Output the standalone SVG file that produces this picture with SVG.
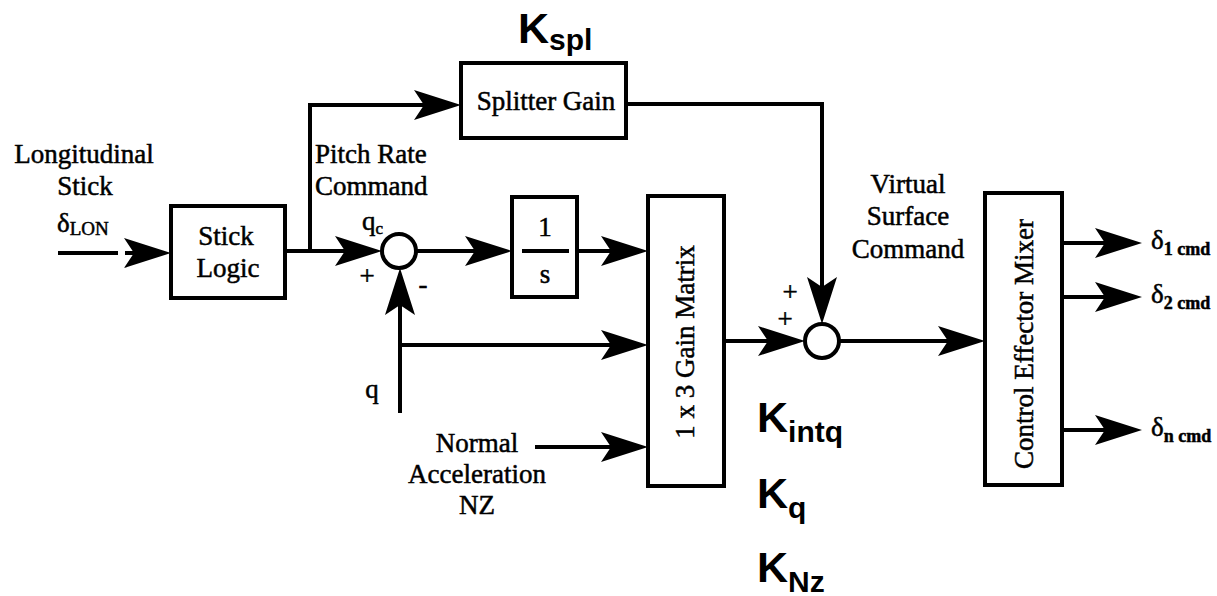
<svg xmlns="http://www.w3.org/2000/svg" width="1217" height="596" viewBox="0 0 1217 596">
<style>
.ln{fill:none;stroke:#000;stroke-width:4}
.bx{fill:#fff;stroke:#000;stroke-width:4}
.t{font-family:"Liberation Serif","Times New Roman",serif;font-size:27px;fill:#000;stroke:#000;stroke-width:0.5}
.m{text-anchor:middle}
.k{font-family:"Liberation Sans",Arial,sans-serif;font-weight:bold;fill:#000}
.sub{font-family:"Liberation Serif","Times New Roman",serif;font-weight:bold;font-size:18px;fill:#000}
</style>
<defs>
<marker id="ah" markerUnits="userSpaceOnUse" markerWidth="50" markerHeight="32" viewBox="0 -16 50 32" refX="37" refY="0" orient="auto">
<path d="M0,-15 L47,0 L0,15 L10,0 Z" fill="#000"/>
</marker>
</defs>
<rect width="1217" height="596" fill="#fff"/>
<g id="connectors">
<path class="ln" d="M58,253 H118"/>
<path class="ln" d="M125,253 H161" marker-end="url(#ah)"/>
<path class="ln" d="M285,251 H372" marker-end="url(#ah)"/>
<path class="ln" d="M310,251 V105 H451" marker-end="url(#ah)"/>
<path class="ln" d="M626,104 H822 V314" marker-end="url(#ah)"/>
<path class="ln" d="M416,251 H502" marker-end="url(#ah)"/>
<path class="ln" d="M577,251 H638" marker-end="url(#ah)"/>
<path class="ln" d="M400,413 V278" marker-end="url(#ah)"/>
<path class="ln" d="M400,345 H638" marker-end="url(#ah)"/>
<path class="ln" d="M535,447 H638" marker-end="url(#ah)"/>
<path class="ln" d="M724,341 H795" marker-end="url(#ah)"/>
<path class="ln" d="M839,341 H975" marker-end="url(#ah)"/>
<path class="ln" d="M1062,243 H1132" marker-end="url(#ah)"/>
<path class="ln" d="M1062,297 H1132" marker-end="url(#ah)"/>
<path class="ln" d="M1062,430 H1132" marker-end="url(#ah)"/>
</g>
<g id="input-label">
<text class="t m" x="84" y="163">Longitudinal</text>
<text class="t m" x="85" y="195">Stick</text>
<text class="t" x="57" y="232" font-size="29">δ<tspan font-size="19" dy="3">LON</tspan></text>
</g>
<g id="stick-logic">
<rect class="bx" x="171" y="206" width="114" height="92"/>
<text class="t m" x="226" y="245">Stick</text>
<text class="t m" x="228" y="277">Logic</text>
</g>
<g id="pitch-label">
<text class="t" x="315" y="163">Pitch Rate</text>
<text class="t" x="315" y="195">Command</text>
</g>
<g id="splitter">
<rect class="bx" x="461" y="63" width="165" height="75"/>
<text class="t m" x="546" y="110">Splitter Gain</text>
<text class="k" x="518" y="43" font-size="43">K<tspan font-size="30" dy="7">spl</tspan></text>
</g>
<g id="sum1">
<circle class="bx" cx="399" cy="251" r="17"/>
<text class="t" x="362" y="230">q<tspan font-size="17" dy="4">c</tspan></text>
<text class="t m" x="367" y="285">+</text>
<text class="t m" x="423" y="293">-</text>
<text class="t m" x="372" y="398">q</text>
</g>
<g id="integrator">
<rect class="bx" x="512" y="197" width="65" height="100"/>
<line x1="522" y1="251" x2="569" y2="251" stroke="#000" stroke-width="4"/>
<text class="t m" x="545" y="236">1</text>
<text class="t m" x="545" y="283">s</text>
</g>
<g id="nz-label">
<text class="t m" x="477" y="452">Normal</text>
<text class="t m" x="477" y="483">Acceleration</text>
<text class="t m" x="477" y="514">NZ</text>
</g>
<g id="gain-matrix">
<rect class="bx" x="648" y="196" width="76" height="290"/>
<text class="t m" transform="translate(694,342) rotate(-90)" font-size="26">1 x 3 Gain Matrix</text>
</g>
<g id="gains">
<text class="k" x="757" y="432" font-size="43">K<tspan font-size="30" dy="10">intq</tspan></text>
<text class="k" x="757" y="508" font-size="43">K<tspan font-size="30" dy="10">q</tspan></text>
<text class="k" x="757" y="582" font-size="43">K<tspan font-size="30" dy="10">Nz</tspan></text>
</g>
<g id="sum2">
<circle class="bx" cx="822" cy="341" r="17"/>
<text class="t m" x="790" y="301">+</text>
<text class="t m" x="785" y="328">+</text>
</g>
<g id="vsc-label">
<text class="t m" x="908" y="193">Virtual</text>
<text class="t m" x="908" y="225">Surface</text>
<text class="t m" x="908" y="258">Command</text>
</g>
<g id="mixer">
<rect class="bx" x="985" y="193" width="77" height="292"/>
<text class="t m" transform="translate(1033,344) rotate(-90)">Control Effector Mixer</text>
</g>
<g id="outputs">
<text class="t" x="1151" y="249" font-size="29">δ<tspan class="sub" dy="6">1 cmd</tspan></text>
<text class="t" x="1151" y="303" font-size="29">δ<tspan class="sub" dy="6">2 cmd</tspan></text>
<text class="t" x="1151" y="436" font-size="29">δ<tspan class="sub" dy="6">n cmd</tspan></text>
</g>
</svg>
